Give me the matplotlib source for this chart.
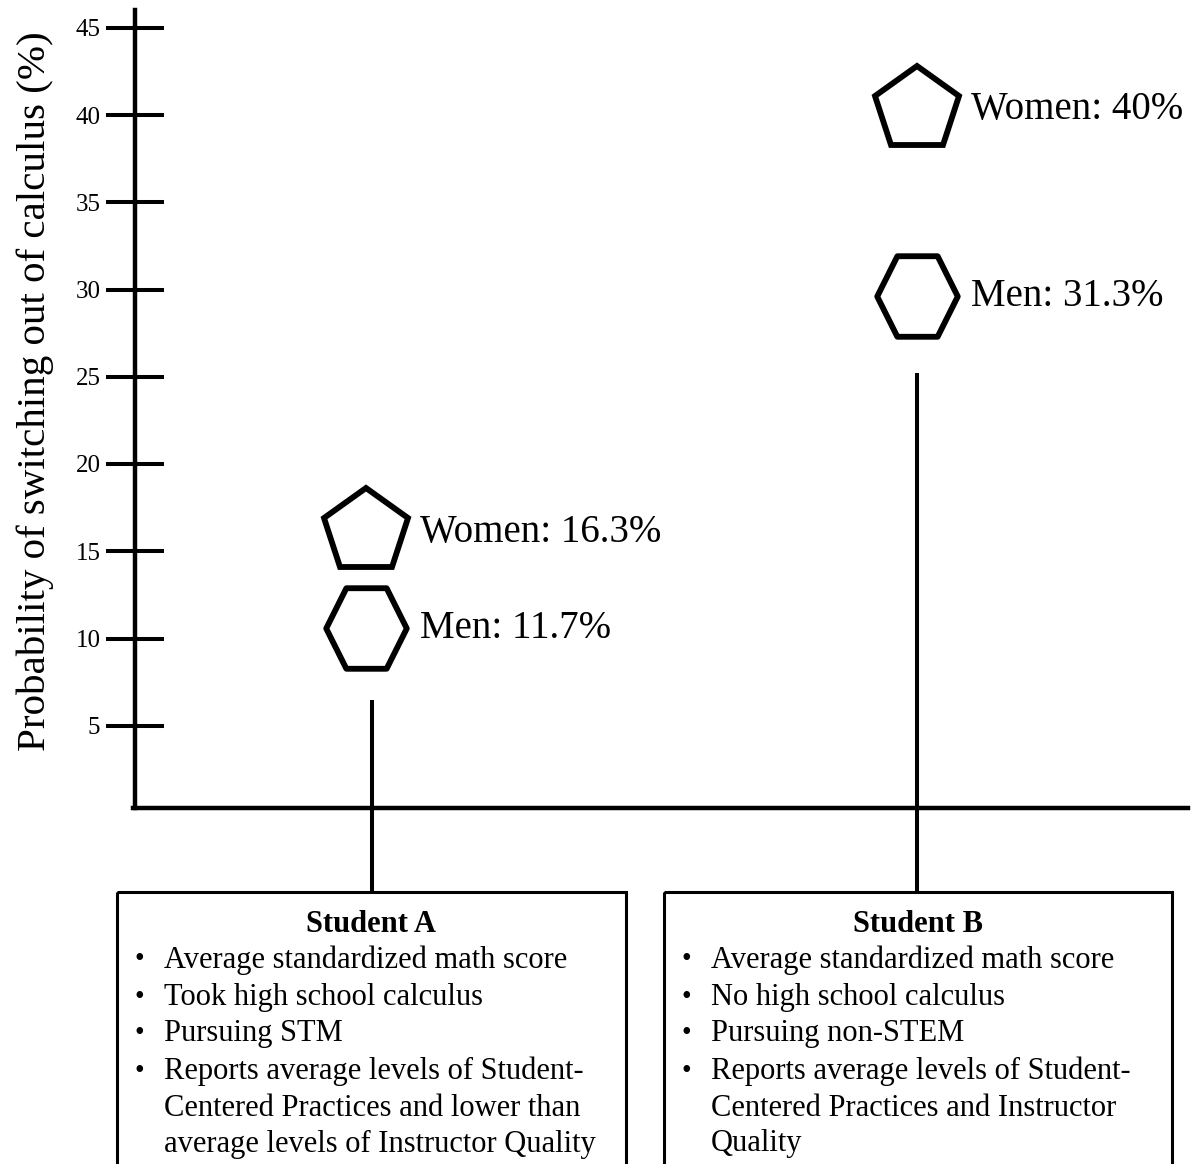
import matplotlib
matplotlib.use("Agg")
import matplotlib.pyplot as plt
from matplotlib.path import Path
from matplotlib.patches import Rectangle

plt.rcParams['font.family'] = ['Liberation Serif', 'DejaVu Serif']

# data
students = ['Student A', 'Student B']
women_pct = [16.3, 40.0]
men_pct = [11.7, 31.3]
# where the markers sit on the y scale (men drawn a bit lower than their value)
women_marker_y = [16.1, 40.3]
men_marker_y = [10.6, 29.6]
stem_top = [6.5, 25.2]
y_ticks = [5, 10, 15, 20, 25, 30, 35, 40, 45]
bullets_a = ['Average standardized math score',
             'Took high school calculus',
             'Pursuing STM',
             'Reports average levels of Student-',
             'Centered Practices and lower than',
             'average levels of Instructor Quality']
bullet_flags_a = [True, True, True, True, False, False]
bullets_b = ['Average standardized math score',
             'No high school calculus',
             'Pursuing non-STEM',
             'Reports average levels of Student-',
             'Centered Practices and Instructor',
             'Quality']
bullet_flags_b = [True, True, True, True, False, False]

# layout (pixels)
W, H = 1195, 1164
y0_px, px_per_unit = 813.0, 17.45
x_pos_px = [372, 917]
x_unit_px = x_pos_px[1] - x_pos_px[0]
marker_dx_px = [-6, 0]


def to_x(px):
    return (px - x_pos_px[0]) / x_unit_px


def to_y(py):
    return (y0_px - py) / px_per_unit


fig = plt.figure(figsize=(W / 100, H / 100), dpi=100)

# overlay in pixel coords for the description boxes
ov = fig.add_axes([0, 0, 1, 1])
ov.set_xlim(0, W)
ov.set_ylim(H, 0)
ov.axis('off')

ax = fig.add_axes([0, 0, 1, 1])
ax.patch.set_visible(False)
ax.set_xlim(to_x(0), to_x(W))
ax.set_ylim(to_y(H), to_y(0))

for s in ['top', 'right']:
    ax.spines[s].set_visible(False)
ax.spines['left'].set_position(('data', to_x(135)))
ax.spines['left'].set_bounds(to_y(808), to_y(10))
ax.spines['bottom'].set_position(('data', to_y(808)))
ax.spines['bottom'].set_bounds(to_x(133), to_x(1188))
for s in ['left', 'bottom']:
    ax.spines[s].set_linewidth(3.2)
    ax.spines[s].set_capstyle('projecting')

ax.set_xticks([])
ax.set_yticks(y_ticks)
ax.tick_params(axis='y', direction='inout', length=41.8, width=2.9,
               labelsize=18, pad=4)

xs = [0, 1]
box_top = to_y(892)
ax.vlines(xs, box_top, stem_top, colors='black', linewidth=2.9)

mx = [x + d / x_unit_px for x, d in zip(xs, marker_dx_px)]
hexagon = Path([(1, 0), (0.5, 1), (-0.5, 1), (-1, 0), (-0.5, -1), (0.5, -1), (1, 0)],
               closed=True)
ax.plot(mx, women_marker_y, linestyle='none', marker='p', markersize=63,
        markerfacecolor='white', markeredgecolor='black', markeredgewidth=4.2)
ax.plot(mx, men_marker_y, linestyle='none', marker=hexagon, markersize=58,
        markerfacecolor='white', markeredgecolor='black', markeredgewidth=4.2)

for i in range(2):
    ax.annotate(f'Women: {women_pct[i]:g}%', (mx[i], women_marker_y[i]),
                xytext=(39, 0), textcoords='offset points',
                ha='left', va='center', fontsize=28)
    ax.annotate(f'Men: {men_pct[i]:g}%', (mx[i], men_marker_y[i]),
                xytext=(39, 0), textcoords='offset points',
                ha='left', va='center', fontsize=28)

fig.text(35 / W, 1 - 391 / H, 'Probability of switching out of calculus (%)',
         rotation=90, ha='center', va='center', fontsize=29.5)

# description boxes
boxes = [(117, 626), (664, 1172)]
line_ys = [960, 997, 1034, 1071, 1109, 1144]
for (left, right), name, lines, flags in zip(boxes, students,
                                              [bullets_a, bullets_b],
                                              [bullet_flags_a, bullet_flags_b]):
    ov.add_patch(Rectangle((left, 892), right - left, 400, fill=False,
                           edgecolor='black', linewidth=2.2))
    ov.text((left + right) / 2, 924, name, ha='center', va='center',
            fontsize=22, fontweight='bold')
    for ly, line, flag in zip(line_ys, lines, flags):
        if flag:
            ov.text(left + 22, ly, '\u2022', ha='center', va='center', fontsize=20)
        ov.text(left + 47, ly, line, ha='left', va='center', fontsize=22)

fig.savefig('out.png', dpi=100)
